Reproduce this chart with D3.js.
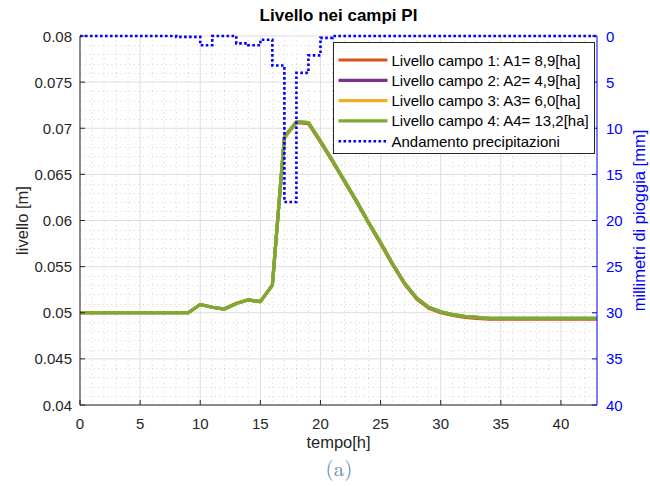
<!DOCTYPE html>
<html>
<head>
<meta charset="utf-8">
<script src="https://cdn.jsdelivr.net/npm/d3@7"></script>
<style>
  html, body { margin: 0; padding: 0; background: #fff; }
  svg { display: block; font-family: "Liberation Sans", Arial, Helvetica, sans-serif; }
</style>
</head>
<body>
<svg id="chart" width="650" height="486"></svg>
<script>
// Time axis (hours)
const hours = [0,1,2,3,4,5,6,7,8,9,10,11,12,13,14,15,16,17,18,19,20,21,
               22,23,24,25,26,27,28,29,30,31,32,33,34,35,36,37,38,39,40,41,42,43];

// Water level in each field [m]
const livelloCampo1 = [0.0500,0.0500,0.0500,0.0500,0.0500,0.0500,0.0500,0.0500,0.0500,0.0500,
  0.0509,0.0506,0.0504,0.0510,0.0514,0.0512,0.0530,0.0690,0.0706,0.0705,0.0685,0.0664,0.0642,
  0.0620,0.0597,0.0575,0.0552,0.0531,0.0515,0.0505,0.0500,0.0497,0.0495,0.0494,0.0493,0.0493,
  0.0493,0.0493,0.0493,0.0493,0.0493,0.0493,0.0493,0.0493];
const livelloCampo2 = [0.0500,0.0500,0.0500,0.0500,0.0500,0.0500,0.0500,0.0500,0.0500,0.0500,
  0.0509,0.0506,0.0504,0.0510,0.0514,0.0512,0.0530,0.0690,0.0707,0.0706,0.0686,0.0665,0.0643,
  0.0621,0.0598,0.0576,0.0553,0.0532,0.0516,0.0506,0.0501,0.0498,0.0496,0.0495,0.0494,0.0494,
  0.0494,0.0494,0.0494,0.0494,0.0494,0.0494,0.0494,0.0494];
const livelloCampo3 = [0.0500,0.0500,0.0500,0.0500,0.0500,0.0500,0.0500,0.0500,0.0500,0.0500,
  0.0509,0.0506,0.0504,0.0510,0.0514,0.0512,0.0530,0.0690,0.0707,0.0706,0.0686,0.0665,0.0643,
  0.0621,0.0598,0.0576,0.0553,0.0532,0.0516,0.0506,0.0501,0.0498,0.0496,0.0495,0.0494,0.0494,
  0.0494,0.0494,0.0494,0.0494,0.0494,0.0494,0.0494,0.0494];
const livelloCampo4 = [0.0500,0.0500,0.0500,0.0500,0.0500,0.0500,0.0500,0.0500,0.0500,0.0500,
  0.0509,0.0506,0.0504,0.0510,0.0514,0.0512,0.0530,0.0691,0.0707,0.0706,0.0686,0.0665,0.0643,
  0.0621,0.0598,0.0576,0.0553,0.0532,0.0516,0.0506,0.0501,0.0498,0.0496,0.0495,0.0494,0.0494,
  0.0494,0.0494,0.0494,0.0494,0.0494,0.0494,0.0494,0.0494];

// Hourly rainfall [mm], each value holds for the following hour
const precipitazioni = [0,0,0,0,0,0,0,0,0.1,0.1,1.0,0,0,0.8,1.0,0.4,3.2,18.0,4.0,2.1,0.2,0,
  0,0,0,0,0,0,0,0,0,0,0,0,0,0,0,0,0,0,0,0,0,0];

const seriesNames = [
  "Livello campo 1: A1= 8,9[ha]",
  "Livello campo 2: A2= 4,9[ha]",
  "Livello campo 3: A3= 6,0[ha]",
  "Livello campo 4: A4= 13,2[ha]"
];
const rainName = "Andamento precipitazioni";
const seriesColors = ["#D95319", "#7E2F8E", "#EDB120", "#77AC30"];
const rainColor = "#0000FF";

const xTicks = [0,5,10,15,20,25,30,35,40];
const yLeftTicks = [0.04,0.045,0.05,0.055,0.06,0.065,0.07,0.075,0.08];
const yRightTicks = [0,5,10,15,20,25,30,35,40];

const svg = d3.select("#chart");
const L = 80, R = 597, T = 36, B = 405;

const x = d3.scaleLinear().domain([0, 43]).range([L, R]);
const yL = d3.scaleLinear().domain([0.04, 0.08]).range([B, T]);
const yR = d3.scaleLinear().domain([0, 40]).range([T, B]);

const axisColor = "#262626";

// Minor grid (dotted)
const minorX = d3.range(0, 44, 1).filter(v => v % 5 !== 0);
const minorY = d3.range(0, 41, 1).map(i => 0.04 + i * 0.001).filter((v, i) => i % 5 !== 0);
const grid = svg.append("g");
grid.selectAll(".mx").data(minorX).join("line")
  .attr("x1", d => x(d)).attr("x2", d => x(d)).attr("y1", T).attr("y2", B)
  .attr("stroke", "#d2d2d2").attr("stroke-width", 1).attr("stroke-dasharray", "1,3.5");
grid.selectAll(".my").data(minorY).join("line")
  .attr("x1", L).attr("x2", R).attr("y1", d => Math.round(yL(d)) + 0.5).attr("y2", d => Math.round(yL(d)) + 0.5)
  .attr("stroke", "#d2d2d2").attr("stroke-width", 1).attr("stroke-dasharray", "1,3.5");
// Major grid
grid.selectAll(".gx").data(xTicks).join("line")
  .attr("x1", d => x(d)).attr("x2", d => x(d)).attr("y1", T).attr("y2", B)
  .attr("stroke", "#dedede").attr("stroke-width", 1);
grid.selectAll(".gy").data(yLeftTicks).join("line")
  .attr("x1", L).attr("x2", R).attr("y1", d => yL(d)).attr("y2", d => yL(d))
  .attr("stroke", "#dedede").attr("stroke-width", 1);

// Level curves
const line = d3.line().x((d, i) => x(hours[i])).y(d => yL(d));
[livelloCampo1, livelloCampo2, livelloCampo3, livelloCampo4].forEach((s, k) => {
  svg.append("path").datum(s)
    .attr("d", line)
    .attr("fill", "none")
    .attr("stroke", seriesColors[k])
    .attr("stroke-width", 3.2)
    .attr("stroke-linejoin", "round");
});

// Rainfall as stairs
const stairs = d3.line().curve(d3.curveStepAfter)
  .x((d, i) => x(hours[i])).y(d => yR(d));
svg.append("path").datum(precipitazioni)
  .attr("d", stairs)
  .attr("fill", "none")
  .attr("stroke", rainColor)
  .attr("stroke-width", 2.6)
  .attr("stroke-dasharray", "2.6,2.4");

// Axes
const ax = svg.append("g");
const tickLen = 5;
const fs = 15;
// bottom
ax.append("line").attr("x1", L).attr("x2", R).attr("y1", B).attr("y2", B).attr("stroke", axisColor);
ax.selectAll(".xt").data(xTicks).join("line")
  .attr("x1", d => x(d)).attr("x2", d => x(d)).attr("y1", B).attr("y2", B - tickLen).attr("stroke", axisColor);
ax.selectAll(".xl").data(xTicks).join("text")
  .attr("x", d => x(d)).attr("y", B + 24).attr("text-anchor", "middle")
  .attr("font-size", fs).attr("fill", axisColor).text(d => d);
// left
ax.append("line").attr("x1", L).attr("x2", L).attr("y1", T).attr("y2", B).attr("stroke", axisColor);
ax.selectAll(".yt").data(yLeftTicks).join("line")
  .attr("x1", L).attr("x2", L + tickLen).attr("y1", d => yL(d)).attr("y2", d => yL(d)).attr("stroke", axisColor);
ax.selectAll(".yl").data(yLeftTicks).join("text")
  .attr("x", L - 8).attr("y", d => yL(d) + 5.5).attr("text-anchor", "end")
  .attr("font-size", fs).attr("fill", axisColor).text(d => d3.format("")(+d.toFixed(3)));
// right
ax.append("line").attr("x1", R).attr("x2", R).attr("y1", T).attr("y2", B).attr("stroke", rainColor);
ax.selectAll(".rt").data(yRightTicks).join("line")
  .attr("x1", R).attr("x2", R - tickLen).attr("y1", d => yR(d)).attr("y2", d => yR(d)).attr("stroke", rainColor);
ax.selectAll(".rl").data(yRightTicks).join("text")
  .attr("x", R + 9).attr("y", d => yR(d) + 5.5).attr("text-anchor", "start")
  .attr("font-size", fs).attr("fill", rainColor).text(d => d);

// Titles and labels
svg.append("text").attr("x", (L + R) / 2).attr("y", 21).attr("text-anchor", "middle")
  .attr("font-size", 17).attr("font-weight", "bold").attr("fill", "#000")
  .text("Livello nei campi PI");
svg.append("text").attr("x", (L + R) / 2).attr("y", 448).attr("text-anchor", "middle")
  .attr("font-size", 16.5).attr("fill", axisColor).text("tempo[h]");
svg.append("text").attr("transform", `translate(28,${(T + B) / 2}) rotate(-90)`)
  .attr("text-anchor", "middle").attr("font-size", 16.5).attr("fill", axisColor).text("livello [m]");
svg.append("text").attr("transform", `translate(645,${(T + B) / 2}) rotate(-90)`)
  .attr("text-anchor", "middle").attr("font-size", 16.5).attr("fill", rainColor)
  .text("millimetri di pioggia [mm]");

// Sub-figure caption
svg.append("text").attr("x", 339).attr("y", 476).attr("text-anchor", "middle")
  .attr("font-family", "'Latin Modern Roman', 'DejaVu Serif', 'Liberation Serif', serif")
  .attr("font-size", 21).attr("fill", "#6b8cad").text("(a)");

// Legend
const lg = svg.append("g").attr("transform", "translate(333.5,42.5)");
lg.append("rect").attr("width", 261).attr("height", 111)
  .attr("fill", "#fff").attr("stroke", axisColor).attr("stroke-width", 1);
const legendItems = seriesNames.map((n, i) => ({ name: n, color: seriesColors[i], dash: null }))
  .concat([{ name: rainName, color: rainColor, dash: "2.6,2.4" }]);
legendItems.forEach((it, i) => {
  const cy = 17.5 + i * 20.3;
  lg.append("line").attr("x1", 5).attr("x2", 54).attr("y1", cy).attr("y2", cy)
    .attr("stroke", it.color).attr("stroke-width", it.dash ? 2.6 : 3.2)
    .attr("stroke-dasharray", it.dash);
  lg.append("text").attr("x", 58).attr("y", cy + 5.5)
    .attr("font-size", 15).attr("fill", "#000").text(it.name);
});
</script>
</body>
</html>
